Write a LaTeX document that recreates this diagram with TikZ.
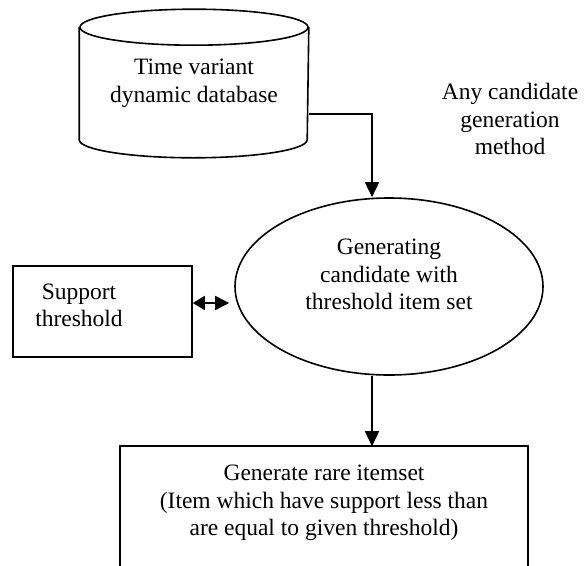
\documentclass[tikz,border=0pt]{standalone}
\usepackage{fontspec}
\setmainfont{Liberation Serif}
\usepackage{tikz}
\usetikzlibrary{arrows.meta, shapes.geometric}

\begin{document}
\begin{tikzpicture}[
   x=1pt, y=-1pt, line width=1.6pt,
   every node/.style={font=\fontsize{23.5}{27.5}\selectfont},
   txt/.style={align=center, inner sep=0pt},
   box/.style={draw, rectangle, inner sep=0pt},
   oval/.style={draw, ellipse, inner sep=0pt, minimum width=308pt, minimum height=177pt},
   arr/.style={-{Triangle[length=15pt, width=14pt]}},
   darr/.style={{Triangle[length=12pt, width=14pt]}-{Triangle[length=14pt, width=14pt]}}]

  \useasboundingbox (0,0) rectangle (585,565);

  % database drum
  \node[txt, minimum width=228pt, minimum height=111pt] (db) at (194,83.5)
       {Time variant\\dynamic database};
  \draw (db.north west) -- (db.south west)
        arc[start angle=180, end angle=360, x radius=114pt, y radius=18pt] -- (db.north east);
  \draw (db.north) ellipse[x radius=114pt, y radius=18pt];

  \node[txt] (note) at (510,119) {Any candidate\\generation\\method};

  \node[oval] (gen) at (389,286.5) {};
  \node[txt] (gentxt) at ([yshift=12pt]gen.center)
       {Generating\\candidate with\\threshold item set};

  \node[box, minimum width=179pt, minimum height=91pt] (supp) at (102.5,311.5) {};
  \node[txt] (supptxt) at ([xshift=-23.5pt, yshift=6pt]supp.center) {Support\\threshold};

  \node[txt, minimum width=406pt, minimum height=112pt] (rare) at (324,503)
       {Generate rare itemset\\(Item which have support less than\\are equal to given threshold)};
  \draw ([yshift=-20pt]rare.south west) |- (rare.north east) -- ([yshift=-20pt]rare.south east);

  \draw[arr] ([yshift=-30.5pt]db.east) -| ([xshift=-17pt]gen.north);
  \draw[darr, shorten >=5pt] ([yshift=8.5pt]supp.east) -- ([yshift=8.5pt]supp.east -| gen.west);
  \draw[arr] ([xshift=-17pt]gen.south) -- ([xshift=-17pt]gen.south |- rare.north);
\end{tikzpicture}
\end{document}
